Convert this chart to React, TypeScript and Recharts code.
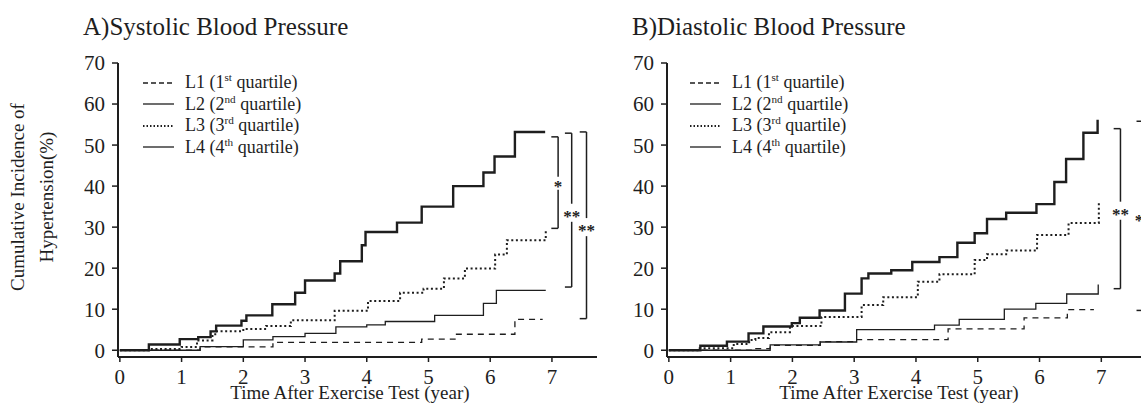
import React from "react";
import {
  LineChart,
  Line,
  XAxis,
  YAxis,
  ReferenceLine,
  ReferenceDot,
  Legend,
} from "recharts";

const yearTicks = [0, 1, 2, 3, 4, 5, 6, 7];
const pctTicks = [0, 10, 20, 30, 40, 50, 60, 70];

const quartileNames = ["L1", "L2", "L3", "L4"];
const quartileRanks = ["1", "2", "3", "4"];
const quartileSuffix = ["st", "nd", "rd", "th"];

const panelTitles = ["A)Systolic Blood Pressure", "B)Diastolic Blood Pressure"];
const xTitle = "Time After Exercise Test (year)";
const yTitle = ["Cumulative Incidence of", "Hypertension(%)"];

// A) systolic, [year, cumulative %]
const sbpL1 = [[0, 0], [1.3, 0.8], [2.48, 1.9], [4.89, 2.7], [5.43, 3.9], [6.4, 7.5], [6.85, 7.5]];
const sbpL2 = [[0, 0], [1.3, 0.9], [2.0, 2.5], [2.48, 3.3], [3.0, 4.1], [3.5, 5.7], [4.0, 6.2], [4.3, 7.0], [5.1, 8.5], [5.89, 11.4], [6.1, 14.6], [6.9, 14.6]];
const sbpL3 = [[0, 0], [0.5, 0.3], [1.0, 0.8], [1.25, 2.4], [1.5, 3.9], [1.57, 4.6], [2.0, 5.2], [2.37, 5.9], [2.77, 7.3], [3.48, 9.6], [4.02, 12.0], [4.54, 14.0], [4.92, 15.0], [5.25, 17.5], [5.59, 19.9], [6.08, 23.3], [6.27, 26.8], [6.9, 29.0]];
const sbpL4 = [[0, 0], [0.47, 1.4], [0.97, 2.7], [1.27, 3.2], [1.47, 4.6], [1.56, 6.0], [1.97, 7.2], [2.05, 8.5], [2.47, 11.2], [2.84, 14.0], [3.0, 17.0], [3.48, 18.7], [3.57, 21.7], [3.92, 25.6], [3.98, 28.8], [4.49, 31.1], [4.89, 35.0], [5.4, 40.0], [5.89, 43.3], [6.07, 47.2], [6.4, 53.2], [6.89, 53.2]];

// B) diastolic
const dbpL1 = [[0, 0], [1.37, 0.4], [1.64, 1.2], [2.45, 2.1], [3.0, 2.6], [4.52, 5.2], [5.75, 7.9], [6.45, 9.9], [6.88, 9.9]];
const dbpL2 = [[0, 0], [1.64, 1.3], [2.45, 2.0], [3.04, 5.0], [4.3, 6.1], [4.7, 7.5], [5.43, 10.0], [5.94, 11.4], [6.44, 13.7], [6.95, 16.0]];
const dbpL3 = [[0, 0], [0.5, 0.5], [1.05, 1.5], [1.3, 2.5], [1.4, 3.0], [1.62, 4.4], [1.96, 5.9], [2.47, 8.1], [3.12, 11.0], [3.47, 12.9], [4.03, 16.7], [4.38, 18.5], [4.95, 22.0], [5.15, 23.4], [5.46, 24.3], [5.96, 28.1], [6.47, 31.0], [6.96, 36.3]];
const dbpL4 = [[0, 0], [0.51, 1.1], [0.94, 2.1], [1.29, 4.1], [1.53, 5.8], [1.99, 6.6], [2.12, 7.9], [2.44, 9.7], [2.85, 13.8], [3.12, 17.5], [3.23, 18.7], [3.6, 19.5], [3.94, 21.5], [4.38, 22.7], [4.67, 26.2], [4.95, 28.5], [5.15, 32.0], [5.46, 33.5], [5.95, 35.6], [6.24, 41.0], [6.43, 46.6], [6.71, 53.0], [6.94, 56.2]];

// significance brackets: [x (year), top %, bottom %, star %, label]
const sbpBrackets = [
  [7.1, 52.0, 29.7, 40.7, "*"],
  [7.32, 52.9, 15.4, 33.5, "**"],
  [7.56, 53.2, 7.7, 30.0, "**"],
];
const dbpBrackets = [
  [7.31, 54.0, 15.0, 34.0, "**"],
  [7.68, 55.8, 9.7, 32.5, "**"],
];

const ink = "#1e1e1e";
const serif = '"Liberation Serif", "DejaVu Serif", serif';

const lineStyles = [
  { w: 1.3, dash: "6 5" },
  { w: 1.3, dash: undefined },
  { w: 2, dash: "2 2.6" },
  { w: 2.4, dash: undefined },
];

const toPts = (arr: number[][]) => arr.map(([t, v]) => ({ t, v }));

function LegendBox() {
  return (
    <div style={{ fontFamily: serif, fontSize: 18, color: ink, lineHeight: "21.5px" }}>
      {quartileNames.map((n, i) => (
        <div key={n} style={{ display: "flex", alignItems: "center", whiteSpace: "nowrap" }}>
          <svg width={31} height={8}>
            <line
              x1={0}
              x2={31}
              y1={4}
              y2={4}
              stroke={ink}
              strokeWidth={i === 2 ? 1.8 : 1.3}
              strokeDasharray={i === 0 ? "5 3" : i === 2 ? "1.5 2" : undefined}
            />
          </svg>
          <span style={{ marginLeft: 11 }}>
            {n} ({quartileRanks[i]}
            <sup style={{ fontSize: "0.62em", lineHeight: 0 }}>{quartileSuffix[i]}</sup> quartile)
          </span>
        </div>
      ))}
    </div>
  );
}

interface PanelProps {
  series: number[][][];
  brackets: (number | string)[][];
  left: number;
  width: number;
  axisW: number;
  xMax: number;
  legendLeft: number;
}

function Panel({ series, brackets, left, width, axisW, xMax, legendLeft }: PanelProps) {
  const tickFont = { fontFamily: serif, fontSize: 21, fill: ink };
  const bracketEls = brackets.flatMap((b, i) => {
    const [x, top, bottom, starY, label] = b as [number, number, number, number, string];
    const gap = label === "*" ? 1.6 : 2.2;
    const tl = 0.11;
    const st = { stroke: ink, strokeWidth: 1.5, ifOverflow: "visible" as const };
    return [
      <ReferenceLine key={`a${i}`} segment={[{ x: x - tl, y: top }, { x, y: top }]} {...st} />,
      <ReferenceLine key={`b${i}`} segment={[{ x: x - tl, y: bottom }, { x, y: bottom }]} {...st} />,
      <ReferenceLine key={`c${i}`} segment={[{ x, y: top }, { x, y: starY + gap }]} {...st} />,
      <ReferenceLine key={`d${i}`} segment={[{ x, y: starY - gap }, { x, y: bottom }]} {...st} />,
      <ReferenceDot
        key={`e${i}`}
        x={x}
        y={starY}
        r={1}
        ifOverflow="visible"
        shape={(p: any) => (
          <text
            x={p.cx}
            y={p.cy + 9}
            textAnchor="middle"
            fontFamily={serif}
            fontSize={17}
            fontWeight="bold"
            fill={ink}
          >
            {label}
          </text>
        )}
      />,
    ];
  });

  return (
    <div style={{ position: "absolute", left, top: 0 }}>
      <LineChart width={width} height={408} margin={{ top: 63, right: 0, bottom: 21, left: 0 }}>
        <XAxis
          type="number"
          dataKey="t"
          domain={[-0.03, xMax]}
          ticks={yearTicks}
          height={30}
          tickSize={5}
          tickMargin={7}
          tick={tickFont}
          axisLine={{ stroke: ink, strokeWidth: 2 }}
          tickLine={{ stroke: ink, strokeWidth: 1.5 }}
        />
        <YAxis
          type="number"
          domain={[-1.65, 70]}
          ticks={pctTicks}
          width={axisW}
          tickSize={6}
          tickMargin={7}
          tick={tickFont}
          axisLine={{ stroke: ink, strokeWidth: 2 }}
          tickLine={{ stroke: ink, strokeWidth: 1.5 }}
        />
        <Legend
          layout="vertical"
          align="center"
          verticalAlign="middle"
          content={() => <LegendBox />}
          wrapperStyle={{ left: legendLeft, top: 72, width: "auto" }}
        />
        {series.map((s, i) => (
          <Line
            key={quartileNames[i]}
            name={quartileNames[i]}
            data={toPts(s)}
            dataKey="v"
            type="stepAfter"
            stroke={ink}
            strokeWidth={lineStyles[i].w}
            strokeDasharray={lineStyles[i].dash}
            dot={false}
            activeDot={false}
            isAnimationActive={false}
          />
        ))}
        {bracketEls}
      </LineChart>
    </div>
  );
}

const abs = (extra: React.CSSProperties): React.CSSProperties => ({
  position: "absolute",
  fontFamily: serif,
  color: ink,
  whiteSpace: "nowrap",
  ...extra,
});

export default function App() {
  return (
    <div
      style={{
        position: "absolute",
        left: 0,
        top: 0,
        width: 1141,
        height: 408,
        overflow: "hidden",
        background: "#fff",
      }}
    >
      <Panel
        series={[sbpL1, sbpL2, sbpL3, sbpL4]}
        brackets={sbpBrackets}
        left={0}
        width={597}
        axisW={118}
        xMax={7.73}
        legendLeft={143}
      />
      <Panel
        series={[dbpL1, dbpL2, dbpL3, dbpL4]}
        brackets={dbpBrackets}
        left={560}
        width={600}
        axisW={107}
        xMax={7.95}
        legendLeft={130}
      />

      <div style={abs({ left: 83, top: 14, fontSize: 25, lineHeight: "25px" })}>{panelTitles[0]}</div>
      <div style={abs({ left: 632, top: 14, fontSize: 25, lineHeight: "25px" })}>{panelTitles[1]}</div>

      <div style={abs({ left: 150, top: 383, width: 400, textAlign: "center", fontSize: 19, lineHeight: "19px" })}>
        {xTitle}
      </div>
      <div style={abs({ left: 699, top: 383, width: 400, textAlign: "center", fontSize: 19, lineHeight: "19px" })}>
        {xTitle}
      </div>

      {yTitle.map((t, i) => (
        <div
          key={t}
          style={abs({
            left: (i === 0 ? 18 : 47) - 150,
            top: 197 - 10,
            width: 300,
            textAlign: "center",
            fontSize: 19,
            lineHeight: "20px",
            transform: "rotate(-90deg)",
          })}
        >
          {t}
        </div>
      ))}
    </div>
  );
}
